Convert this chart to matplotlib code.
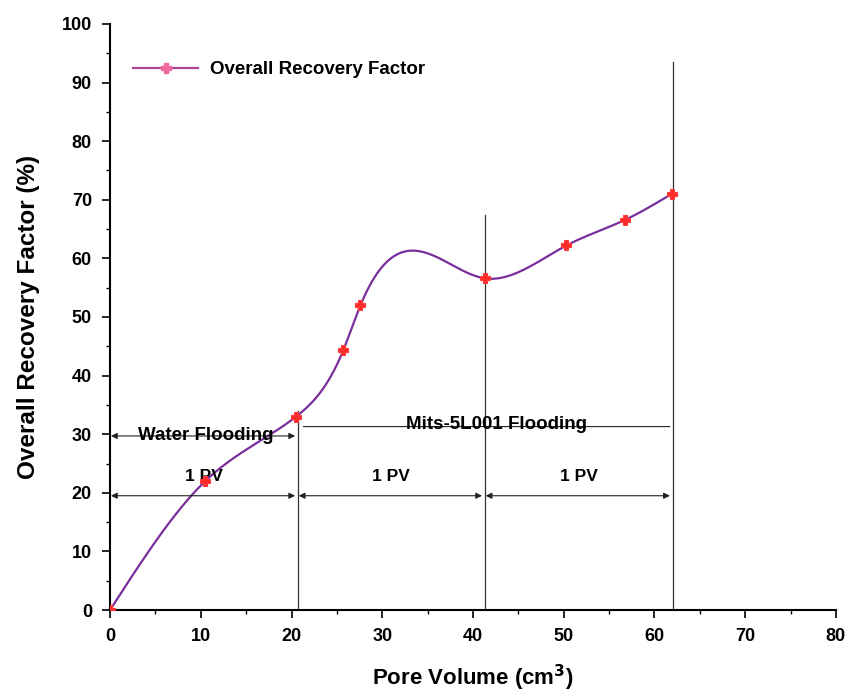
import numpy as np
import matplotlib
matplotlib.use("Agg")
import matplotlib.pyplot as plt
from matplotlib.ticker import MultipleLocator

plt.rcParams['font.family'] = ['Liberation Sans', 'DejaVu Sans']
plt.rcParams['font.weight'] = 'bold'

# data
pore_volume = [0.0, 10.5, 20.5, 25.7, 27.6, 41.3, 50.3, 56.8, 61.9]
recovery = [0.0, 22.0, 33.0, 44.3, 52.0, 56.6, 62.2, 66.6, 71.0]

# stage boundaries (cm3) and the height of each divider line
boundaries = [20.7, 41.3, 62.0]
boundary_tops = [34.0, 67.4, 93.5]
pv_row_y = 19.5
water_y = 29.7
mits_y = 31.3


def natural_spline(x, y, n=400):
    """Natural cubic spline for the smooth connecting line (like Origin's spline)."""
    x = np.asarray(x, float)
    y = np.asarray(y, float)
    h = np.diff(x)
    m = len(x)
    A = np.zeros((m, m))
    b = np.zeros(m)
    A[0, 0] = A[-1, -1] = 1.0
    for i in range(1, m - 1):
        A[i, i - 1] = h[i - 1]
        A[i, i] = 2 * (h[i - 1] + h[i])
        A[i, i + 1] = h[i]
        b[i] = 3 * ((y[i + 1] - y[i]) / h[i] - (y[i] - y[i - 1]) / h[i - 1])
    c = np.linalg.solve(A, b)
    xs = np.linspace(x[0], x[-1], n)
    idx = np.clip(np.searchsorted(x, xs) - 1, 0, m - 2)
    dx = xs - x[idx]
    bb = (y[idx + 1] - y[idx]) / h[idx] - h[idx] * (2 * c[idx] + c[idx + 1]) / 3
    dd = (c[idx + 1] - c[idx]) / (3 * h[idx])
    ys = y[idx] + bb * dx + c[idx] * dx ** 2 + dd * dx ** 3
    return xs, ys


fig = plt.figure(figsize=(8.49, 6.97), dpi=100)
ax = fig.add_axes([0.1296, 0.1248, 0.855, 0.8408])

xs, ys = natural_spline(pore_volume, recovery)
ax.plot(xs, ys, color='#7a2e9c', lw=1.6, zorder=3)
ax.plot(pore_volume, recovery, ls='none', marker='P', ms=7.5, color='#ff2b2b',
        mec='#ff3b3b', mew=0.8, zorder=4)
# legend handle: line with marker
ax.plot([], [], color='#b0468e', lw=1.6, marker='P', ms=6.5, mfc='#f06aa0',
        mec='#f06aa0', label='Overall Recovery Factor')

# stage divider lines
for xb, top in zip(boundaries, boundary_tops):
    ax.plot([xb, xb], [0, top], color='#333333', lw=0.9, zorder=2)

arrow = dict(arrowstyle='<|-|>', mutation_scale=9, lw=0.8, color='#222222',
             shrinkA=0, shrinkB=0)

# 1 PV arrows
starts = [0.0] + boundaries[:-1]
for x0, x1 in zip(starts, boundaries):
    ax.annotate('', xy=(x0 + 0.1, pv_row_y), xytext=(x1 - 0.3, pv_row_y),
                arrowprops=arrow)
    ax.text((x0 + x1) / 2, pv_row_y + 2.0, '1 PV', ha='center', va='bottom',
            fontsize=12.5, fontweight='bold')

# Water flooding
ax.annotate('', xy=(0.1, water_y), xytext=(boundaries[0] - 0.3, water_y),
            arrowprops=arrow)
ax.text(10.5, water_y, 'Water Flooding', ha='center', va='center',
        fontsize=13.5, fontweight='bold', zorder=5)

# Mits-5L001 flooding
ax.annotate('', xy=(boundaries[0] + 0.3, mits_y), xytext=(boundaries[2], mits_y),
            arrowprops=dict(arrowstyle='-', lw=0.8, color='#222222'))
ax.text(42.6, mits_y + 0.4, 'Mits-5L001 Flooding', ha='center', va='center',
        fontsize=13.5, fontweight='bold', zorder=5)

ax.set_xlim(0, 80)
ax.set_ylim(0, 100)
ax.xaxis.set_major_locator(MultipleLocator(10))
ax.xaxis.set_minor_locator(MultipleLocator(5))
ax.yaxis.set_major_locator(MultipleLocator(10))
ax.yaxis.set_minor_locator(MultipleLocator(5))
ax.tick_params(which='major', direction='out', length=6, width=1.2, labelsize=13, pad=7)
ax.tick_params(which='minor', direction='out', length=3, width=1.0)
for lab in ax.get_xticklabels() + ax.get_yticklabels():
    lab.set_fontweight('bold')

ax.spines['top'].set_visible(False)
ax.spines['right'].set_visible(False)
ax.spines['left'].set_linewidth(1.5)
ax.spines['bottom'].set_linewidth(1.5)

ax.set_xlabel('Pore Volume (cm$^3$)', fontsize=16, fontweight='bold', labelpad=13)
ax.set_ylabel('Overall Recovery Factor (%)', fontsize=17.5, fontweight='bold', labelpad=16)

ax.legend(loc='upper left', bbox_to_anchor=(0.008, 0.965), frameon=False,
          handlelength=3.5, handletextpad=0.6,
          prop={'weight': 'bold', 'size': 13.5})

fig.savefig('out.png', dpi=100)
